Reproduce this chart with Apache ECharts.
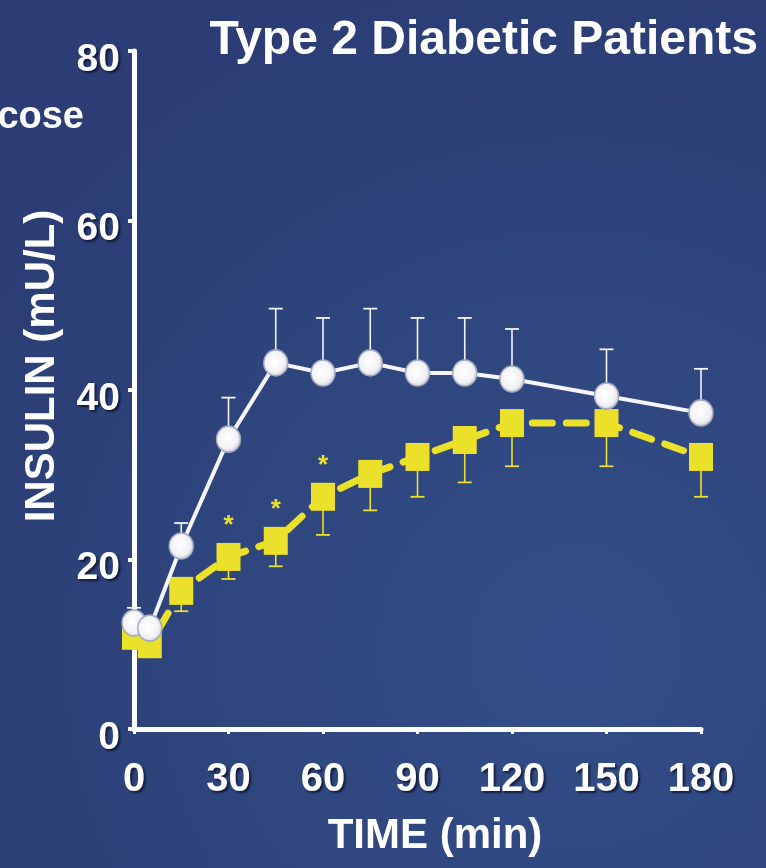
<!DOCTYPE html>
<html>
<head>
<meta charset="utf-8">
<script src="https://cdn.jsdelivr.net/npm/echarts@6/dist/echarts.min.js"></script>
<style>
html,body{margin:0;padding:0;background:#2e4279;}
#c{width:766px;height:868px;}
</style>
</head>
<body>
<div id="c"></div>
<script>
// ---- data ----
var times = [0, 5, 15, 30, 45, 60, 75, 90, 105, 120, 150, 180];
var whiteMean = [12.5, 11.9, 21.6, 34.2, 43.2, 42.0, 43.2, 42.0, 42.0, 41.3, 39.3, 37.3];
var whiteUpper = [14.3, null, 24.3, 39.1, 49.6, 48.5, 49.6, 48.5, 48.5, 47.2, 44.8, 42.5];
var yellowMean = [11.0, 10.0, 16.3, 20.3, 22.2, 27.4, 30.1, 32.1, 34.1, 36.1, 36.1, 32.1];
var yellowLower = [9.6, null, 13.9, 17.7, 19.2, 22.9, 25.8, 27.4, 29.1, 31.0, 31.0, 27.4];
var sigTimes = [30, 45, 60];
var xTicks = [0, 30, 60, 90, 120, 150, 180];
var yTicks = [0, 20, 40, 60, 80];
var titleText = 'Type 2 Diabetic Patients';
var cutText = 'cose';
var xName = 'TIME (min)';
var yName = 'INSULIN (mU/L)';

var FONT = '"Liberation Sans", Arial, sans-serif';
var WHITE = '#ffffff';
var YELLOW = '#ebe02a';
var shadow = {textShadowColor: 'rgba(10,15,40,0.75)', textShadowOffsetX: 2, textShadowOffsetY: 2, textShadowBlur: 2};

var chart = echarts.init(document.getElementById('c'), null, {renderer: 'canvas'});

function pairs(xs, ys) {
  return xs.map(function (x, i) { return [x, ys[i]]; });
}
function errData(xs, means, ends) {
  var out = [];
  xs.forEach(function (x, i) { if (ends[i] != null) out.push([x, means[i], ends[i]]); });
  return out;
}
function errRender(color) {
  return function (params, api) {
    var x = api.value(0);
    var p0 = api.coord([x, api.value(1)]);
    var p1 = api.coord([x, api.value(2)]);
    var hw = 7;
    return {
      type: 'group',
      children: [
        {type: 'line', shape: {x1: p0[0], y1: p0[1], x2: p1[0], y2: p1[1]}, style: {stroke: color, lineWidth: 1.6}},
        {type: 'line', shape: {x1: p1[0] - hw, y1: p1[1], x2: p1[0] + hw, y2: p1[1]}, style: {stroke: color, lineWidth: 1.8}}
      ]
    };
  };
}

var yellowData = times.map(function (t, i) {
  var d = {value: [t, yellowMean[i]]};
  if (sigTimes.indexOf(t) >= 0) {
    d.label = {show: true, formatter: '*', position: 'top', distance: 4, color: YELLOW, fontSize: 26, fontWeight: 'bold', fontFamily: FONT};
  }
  return d;
});

var option = {
  backgroundColor: {
    type: 'radial', x: 0.75, y: 0.75, r: 0.9,
    colorStops: [{offset: 0, color: '#334e88'}, {offset: 1, color: '#2b3d74'}]
  },
  animation: false,
  grid: {left: 134, right: 65, top: 51, bottom: 139},
  xAxis: {
    type: 'value', min: 0, max: 180, interval: 30,
    axisLine: {show: true, lineStyle: {color: WHITE, width: 5}},
    axisTick: {show: true, length: 5, lineStyle: {color: WHITE, width: 3}},
    splitLine: {show: false},
    axisLabel: Object.assign({color: WHITE, fontSize: 40, fontWeight: 'bold', fontFamily: FONT, margin: 31,
      formatter: function (v) { return xTicks.indexOf(v) >= 0 ? String(v) : ''; }}, shadow)
  },
  yAxis: {
    type: 'value', min: 0, max: 80, interval: 20,
    axisLine: {show: true, onZero: false, lineStyle: {color: WHITE, width: 5}},
    axisTick: {show: true, length: 6, lineStyle: {color: WHITE, width: 4}},
    splitLine: {show: false},
    axisLabel: {margin: 14,
      formatter: function (v) { return yTicks.indexOf(v) >= 0 ? '{a|' + v + '}' : ''; },
      rich: {a: Object.assign({color: WHITE, fontSize: 39, fontWeight: 'bold', fontFamily: FONT, padding: [18, 0, 0, 0]}, shadow)}
    }
  },
  graphic: [
    {type: 'text', right: 8, top: 17, z: 10,
      style: Object.assign({text: titleText, fill: WHITE, font: 'bold 48px ' + FONT}, {shadowColor: 'rgba(10,15,40,0.8)', shadowOffsetX: 2, shadowOffsetY: 2, shadowBlur: 2})},
    {type: 'text', x: 84, y: 99, z: 10,
      style: {text: cutText, fill: WHITE, font: 'bold 38px ' + FONT, align: 'right', shadowColor: 'rgba(10,15,40,0.8)', shadowOffsetX: 2, shadowOffsetY: 2, shadowBlur: 2}},
    {type: 'text', x: 435, y: 836, z: 10,
      style: {text: xName, fill: WHITE, font: 'bold 42px ' + FONT, align: 'center', verticalAlign: 'middle', shadowColor: 'rgba(10,15,40,0.8)', shadowOffsetX: 2, shadowOffsetY: 2, shadowBlur: 2}},
    {type: 'text', x: 42, y: 366, rotation: Math.PI / 2, z: 10,
      style: {text: yName, fill: WHITE, font: 'bold 42px ' + FONT, align: 'center', verticalAlign: 'middle', shadowColor: 'rgba(10,15,40,0.8)', shadowOffsetX: 2, shadowOffsetY: -2, shadowBlur: 2}}
  ],
  series: [
    {
      type: 'custom', name: 'yellowErr', z: 2,
      renderItem: errRender(YELLOW),
      data: errData(times, yellowMean, yellowLower)
    },
    {
      type: 'line', name: 'yellow', z: 3,
      data: yellowData,
      symbol: 'rect', symbolSize: [24, 28],
      itemStyle: {color: YELLOW},
      lineStyle: {color: YELLOW, width: 7, type: [20, 14], cap: 'round'}
    },
    {
      type: 'custom', name: 'whiteErr', z: 4,
      renderItem: errRender('#f4f4f8'),
      data: errData(times, whiteMean, whiteUpper)
    },
    {
      type: 'line', name: 'white', z: 5,
      data: pairs(times, whiteMean),
      symbol: 'circle', symbolSize: [24, 26],
      itemStyle: {
        color: {type: 'radial', x: 0.45, y: 0.45, r: 0.6, colorStops: [{offset: 0, color: '#ffffff'}, {offset: 0.65, color: '#f2f2f5'}, {offset: 1, color: '#c4c7d4'}]},
        borderColor: '#a2a8c0', borderWidth: 1.5
      },
      lineStyle: {color: '#f6f6fa', width: 4}
    }
  ]
};
chart.setOption(option);
</script>
</body>
</html>
